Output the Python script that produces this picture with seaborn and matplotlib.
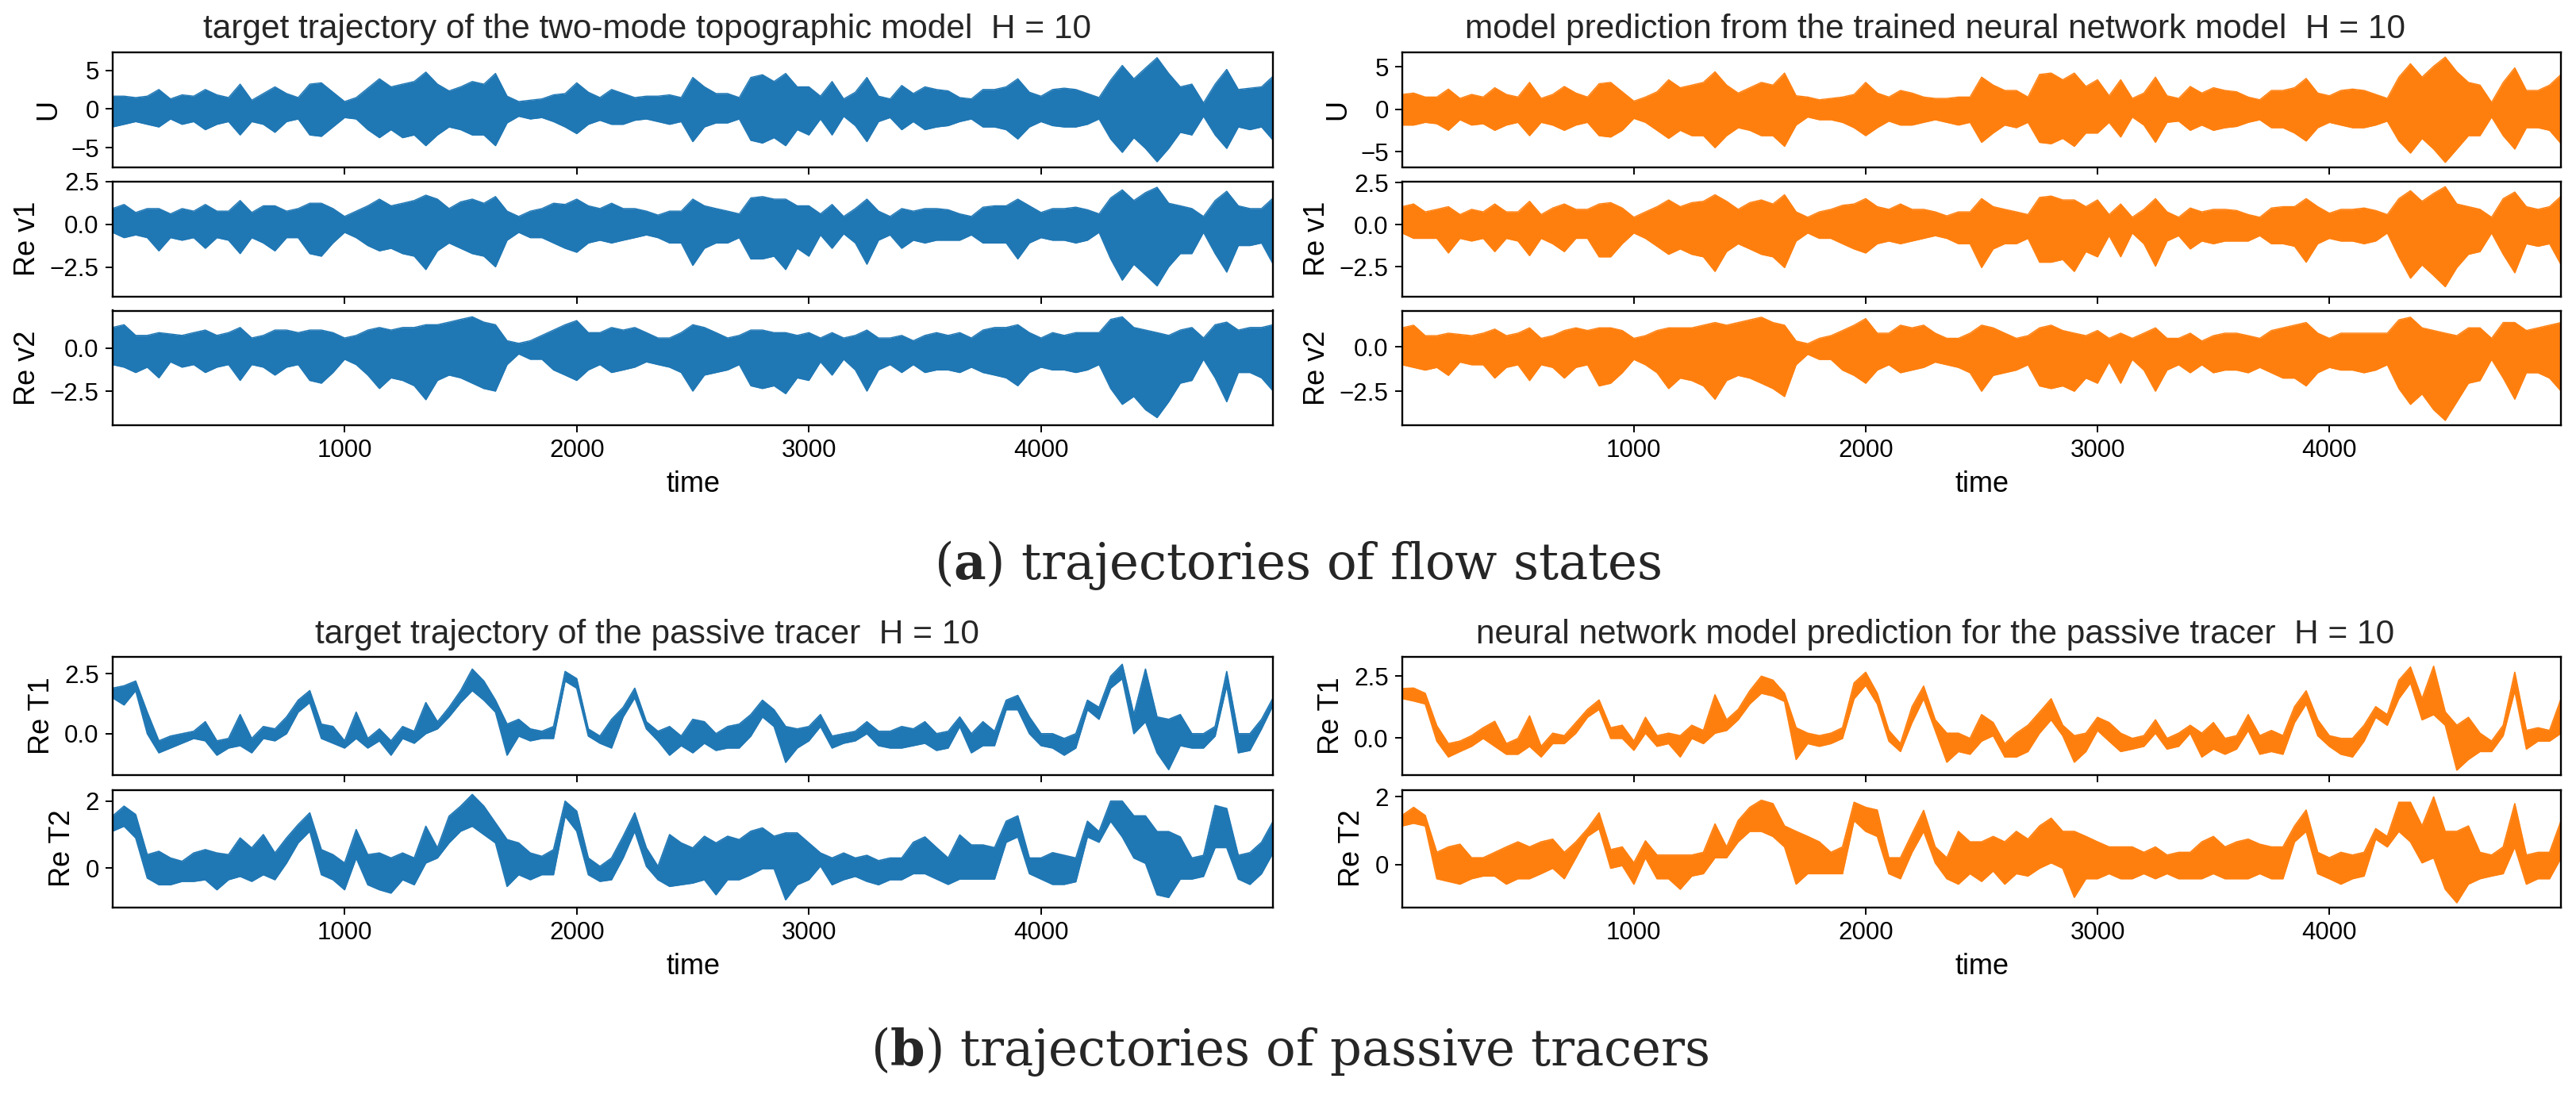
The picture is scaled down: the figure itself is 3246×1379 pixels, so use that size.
import numpy as np
import matplotlib
matplotlib.use("Agg")
import matplotlib.pyplot as plt
import seaborn as sns

# ---------------- data ----------------
time_points = list(range(0, 5001, 50))

# flow states, target (left) : upper / lower envelope of the fast oscillation
U_tgt_up = [1.66, 1.66, 1.48, 1.66, 2.52, 1.31, 1.83, 1.66, 2.52, 1.83,
            1.48, 3.21, 1.14, 2.0, 2.86, 2.0, 1.48, 3.21, 3.38, 2.17,
            0.97, 1.48, 2.69, 3.9, 2.86, 3.21, 3.55, 4.76, 3.21, 2.34,
            2.86, 3.55, 3.21, 4.59, 1.66, 0.97, 1.14, 1.31, 1.83, 2.0,
            3.38, 2.17, 1.48, 2.52, 2.0, 1.48, 1.66, 1.66, 1.83, 1.48,
            4.07, 2.86, 2.0, 2.0, 1.48, 4.07, 4.42, 3.55, 4.59, 2.86,
            2.86, 1.66, 3.55, 1.31, 2.17, 4.07, 1.66, 1.31, 3.04, 2.0,
            2.86, 2.52, 2.34, 1.48, 1.31, 2.52, 2.52, 2.86, 3.9, 2.17,
            1.66, 2.52, 2.69, 2.52, 2.0, 1.48, 3.73, 5.62, 3.9, 5.28,
            6.62, 4.59, 2.86, 3.21, 0.79, 3.21, 5.11, 2.52, 2.69, 2.86,
            4.24]
U_tgt_lo = [-2.31, -1.97, -1.62, -1.97, -2.31, -1.28, -1.97, -1.62, -2.66, -1.97,
            -1.62, -3.34, -1.62, -1.97, -3.0, -1.62, -1.28, -3.34, -3.52, -2.31,
            -1.1, -1.28, -2.66, -3.69, -2.66, -3.69, -3.34, -4.72, -3.34, -2.31,
            -2.66, -3.34, -3.34, -4.72, -1.79, -0.93, -1.28, -1.1, -1.62, -2.31,
            -3.17, -1.97, -1.45, -1.97, -1.97, -1.45, -1.28, -1.62, -1.97, -1.62,
            -4.2, -2.31, -1.79, -1.79, -1.28, -4.03, -4.38, -3.69, -4.72, -2.66,
            -3.34, -1.28, -3.34, -0.93, -2.14, -4.2, -1.62, -1.1, -2.66, -1.62,
            -2.66, -2.31, -2.14, -1.62, -1.28, -2.31, -2.31, -2.66, -3.86, -2.31,
            -1.62, -2.14, -2.31, -2.31, -1.97, -1.28, -3.86, -5.58, -3.69, -5.07,
            -6.79, -5.07, -3.0, -3.34, -0.93, -3.34, -5.07, -2.31, -2.66, -2.31,
            -4.03]
V1_tgt_up = [0.91, 1.15, 0.68, 0.91, 0.91, 0.6, 0.91, 0.76, 1.15, 0.76,
             0.76, 1.38, 0.68, 1.07, 1.07, 0.76, 0.91, 1.22, 1.22, 0.91,
             0.45, 0.76, 1.07, 1.46, 1.07, 1.22, 1.38, 1.69, 1.46, 0.91,
             1.3, 1.46, 1.22, 1.61, 0.76, 0.45, 0.76, 0.91, 1.22, 1.15,
             1.46, 1.07, 0.91, 1.22, 0.91, 0.91, 0.76, 0.53, 0.76, 0.76,
             1.46, 1.07, 0.91, 0.76, 0.6, 1.53, 1.61, 1.46, 1.46, 1.07,
             1.07, 0.6, 1.15, 0.45, 0.91, 1.46, 0.76, 0.45, 0.91, 0.76,
             0.91, 0.91, 0.84, 0.6, 0.45, 0.99, 1.07, 1.07, 1.46, 1.07,
             0.68, 0.91, 0.91, 0.99, 0.84, 0.6, 1.53, 2.0, 1.38, 1.84,
             2.15, 1.22, 1.07, 0.91, 0.45, 1.38, 1.92, 1.07, 0.91, 0.91,
             1.53]
V1_tgt_lo = [-0.48, -0.79, -0.63, -0.79, -1.56, -0.79, -0.94, -0.79, -1.41, -0.79,
             -0.94, -1.72, -0.79, -1.1, -1.56, -0.79, -0.79, -1.72, -1.87, -1.1,
             -0.48, -0.79, -1.25, -1.56, -1.41, -1.72, -1.87, -2.65, -1.56, -1.1,
             -1.41, -1.72, -1.87, -2.49, -0.94, -0.48, -0.79, -0.79, -1.1, -1.41,
             -1.64, -1.1, -0.94, -1.1, -0.94, -0.79, -0.63, -0.79, -1.1, -1.1,
             -2.41, -1.41, -1.1, -1.1, -0.79, -2.03, -2.03, -1.87, -2.65, -1.41,
             -1.87, -0.63, -1.41, -0.56, -1.1, -2.34, -0.94, -0.63, -1.41, -0.94,
             -1.1, -0.94, -0.94, -0.94, -0.63, -1.1, -1.1, -1.1, -2.03, -1.1,
             -0.79, -0.94, -0.94, -1.1, -0.94, -0.48, -2.03, -3.27, -2.34, -2.96,
             -3.6, -2.49, -1.72, -1.72, -0.48, -1.72, -2.8, -1.25, -1.25, -1.1,
             -2.34]
V2_tgt_up = [1.2, 1.36, 0.74, 0.74, 0.9, 0.82, 0.74, 0.9, 1.05, 0.74,
             0.9, 1.2, 0.59, 0.74, 1.05, 1.05, 0.9, 1.05, 1.05, 0.9,
             0.59, 0.74, 1.05, 1.2, 1.05, 1.2, 1.2, 1.36, 1.36, 1.51,
             1.67, 1.82, 1.51, 1.36, 0.43, 0.28, 0.43, 0.74, 1.05, 1.36,
             1.6, 0.9, 0.9, 1.2, 1.05, 1.2, 0.9, 0.59, 0.59, 0.9,
             1.36, 1.2, 0.9, 0.59, 0.74, 1.05, 1.05, 0.9, 0.9, 0.74,
             0.9, 0.59, 0.9, 0.59, 0.74, 1.05, 0.59, 0.59, 0.74, 0.43,
             0.74, 0.9, 0.74, 0.9, 0.59, 1.05, 1.2, 1.2, 1.36, 0.9,
             0.59, 0.9, 0.74, 0.9, 0.9, 0.9, 1.67, 1.82, 1.2, 1.05,
             0.9, 0.74, 1.05, 1.2, 0.59, 1.36, 1.51, 1.05, 1.2, 1.2,
             1.36]
V2_tgt_lo = [-0.96, -1.11, -1.42, -1.11, -1.73, -0.8, -1.11, -0.96, -1.42, -1.11,
             -0.96, -1.88, -0.96, -1.11, -1.57, -1.11, -0.96, -1.88, -2.04, -1.42,
             -0.65, -0.96, -1.57, -2.35, -1.73, -1.88, -2.19, -3.0, -1.88, -1.57,
             -1.73, -2.04, -2.35, -2.5, -0.96, -0.34, -0.65, -0.65, -1.27, -1.57,
             -1.88, -1.27, -0.96, -1.42, -1.27, -1.11, -0.8, -0.96, -1.11, -1.42,
             -2.5, -1.57, -1.42, -1.27, -0.96, -2.19, -2.35, -2.19, -2.65, -1.73,
             -1.88, -0.8, -1.57, -0.65, -1.27, -2.5, -1.27, -0.96, -1.42, -0.96,
             -1.42, -1.27, -1.27, -1.42, -1.11, -1.42, -1.57, -1.73, -2.19, -1.42,
             -1.11, -1.27, -1.27, -1.42, -1.27, -0.96, -2.35, -3.27, -2.81, -3.58,
             -4.04, -3.12, -2.04, -1.88, -0.65, -1.73, -3.12, -1.42, -1.42, -1.73,
             -2.5]

# flow states, neural network prediction (right)
U_nn_up = [1.76, 1.92, 1.45, 1.45, 2.39, 1.29, 1.76, 1.45, 2.55, 1.76,
           1.45, 3.18, 1.29, 1.76, 2.7, 1.92, 1.45, 3.02, 3.18, 2.07,
           0.97, 1.45, 2.07, 3.49, 2.55, 2.86, 3.18, 4.43, 2.86, 1.92,
           2.55, 3.18, 2.86, 4.28, 1.6, 1.45, 1.13, 1.29, 1.45, 1.76,
           3.18, 1.92, 1.45, 2.23, 1.92, 1.45, 1.29, 1.29, 1.45, 1.45,
           3.8, 2.86, 2.23, 2.23, 1.45, 4.12, 4.28, 3.49, 4.28, 2.7,
           3.49, 1.6, 3.49, 1.29, 1.92, 3.8, 1.6, 1.29, 2.7, 1.92,
           2.55, 2.23, 2.07, 1.45, 1.13, 2.23, 2.23, 2.55, 3.65, 1.92,
           1.6, 2.23, 2.39, 2.23, 1.76, 1.29, 3.8, 5.38, 3.8, 5.09,
           6.16, 4.43, 3.18, 2.86, 0.82, 3.18, 4.9, 2.23, 2.23, 2.86,
           4.12]
U_nn_lo = [-1.86, -1.86, -1.54, -1.7, -2.48, -1.23, -1.86, -1.7, -2.48, -1.86,
           -1.54, -3.11, -1.54, -1.86, -2.48, -1.86, -1.54, -3.11, -3.27, -2.48,
           -1.07, -1.54, -2.48, -3.43, -2.48, -3.11, -3.11, -4.53, -3.11, -2.17,
           -2.48, -3.11, -3.11, -4.37, -1.86, -0.91, -1.23, -1.23, -1.54, -2.17,
           -3.11, -2.17, -1.39, -1.86, -1.86, -1.54, -1.23, -1.54, -1.86, -1.54,
           -3.9, -2.8, -1.86, -2.17, -1.54, -3.9, -4.06, -3.43, -4.37, -2.8,
           -2.8, -1.54, -3.27, -0.91, -1.86, -3.9, -1.54, -1.39, -2.48, -1.86,
           -2.48, -2.17, -2.02, -1.54, -1.23, -2.17, -2.17, -2.8, -3.74, -2.17,
           -1.54, -1.86, -2.17, -2.17, -1.86, -1.39, -3.74, -5.16, -3.43, -4.69,
           -6.26, -4.69, -3.11, -3.11, -0.91, -3.11, -4.69, -2.17, -2.17, -2.48,
           -4.06]
V1_nn_up = [1.07, 1.23, 0.76, 0.91, 1.07, 0.6, 0.91, 0.76, 1.23, 0.76,
            0.76, 1.39, 0.6, 0.99, 1.23, 0.91, 0.91, 1.23, 1.31, 0.99,
            0.44, 0.76, 1.07, 1.47, 1.07, 1.31, 1.39, 1.78, 1.39, 0.91,
            1.31, 1.47, 1.23, 1.78, 0.76, 0.44, 0.76, 0.91, 1.15, 1.23,
            1.55, 1.07, 0.91, 1.23, 0.91, 0.91, 0.76, 0.52, 0.76, 0.76,
            1.55, 1.07, 0.91, 0.76, 0.6, 1.62, 1.7, 1.47, 1.47, 1.07,
            1.47, 0.6, 1.23, 0.44, 0.91, 1.55, 0.76, 0.44, 0.99, 0.76,
            0.91, 0.91, 0.84, 0.6, 0.44, 0.99, 1.07, 1.07, 1.55, 1.07,
            0.68, 0.91, 0.91, 0.99, 0.84, 0.6, 1.55, 2.02, 1.39, 1.86,
            2.26, 1.23, 1.07, 0.91, 0.44, 1.55, 1.94, 1.07, 0.91, 1.07,
            1.7]
V1_nn_lo = [-0.5, -0.82, -0.82, -0.82, -1.69, -0.82, -0.98, -0.82, -1.61, -0.82,
            -0.98, -1.85, -0.82, -1.14, -1.61, -0.82, -0.82, -1.92, -1.92, -1.14,
            -0.5, -0.82, -1.29, -1.77, -1.45, -1.77, -1.92, -2.79, -1.61, -1.14,
            -1.45, -1.77, -1.92, -2.56, -0.98, -0.5, -0.82, -0.82, -1.14, -1.45,
            -1.69, -1.14, -0.98, -1.14, -0.98, -0.82, -0.66, -0.82, -1.14, -1.14,
            -2.56, -1.45, -1.14, -1.14, -0.82, -2.24, -2.24, -2.08, -2.79, -1.61,
            -1.92, -0.66, -1.92, -0.5, -1.14, -2.48, -0.98, -0.66, -1.45, -0.98,
            -1.14, -0.98, -0.98, -0.98, -0.66, -1.14, -1.14, -1.29, -2.24, -1.14,
            -0.82, -0.98, -0.98, -1.14, -0.98, -0.5, -1.92, -3.19, -2.4, -3.03,
            -3.7, -2.56, -1.77, -1.61, -0.5, -1.77, -2.87, -1.14, -1.29, -1.14,
            -2.4]
V2_nn_up = [1.07, 1.22, 0.63, 0.63, 0.77, 0.7, 0.63, 0.77, 1.0, 0.63,
            0.77, 1.07, 0.48, 0.63, 0.92, 1.07, 0.92, 1.07, 1.07, 0.92,
            0.48, 0.63, 0.92, 1.07, 1.07, 1.07, 1.22, 1.37, 1.22, 1.37,
            1.52, 1.67, 1.37, 1.22, 0.33, 0.18, 0.48, 0.63, 0.92, 1.22,
            1.59, 0.77, 0.77, 1.22, 1.07, 1.22, 0.77, 0.48, 0.48, 0.77,
            1.22, 1.07, 0.77, 0.48, 0.63, 1.07, 1.22, 0.92, 0.77, 0.63,
            0.92, 0.48, 0.77, 0.48, 0.77, 1.07, 0.48, 0.48, 0.77, 0.33,
            0.63, 0.77, 0.77, 0.63, 0.48, 0.92, 1.07, 1.22, 1.37, 0.77,
            0.48, 0.77, 0.77, 0.77, 0.77, 0.77, 1.52, 1.67, 1.07, 0.92,
            0.77, 0.63, 1.07, 1.07, 0.48, 1.37, 1.37, 0.92, 1.07, 1.22,
            1.37]
V2_nn_lo = [-1.01, -1.16, -1.31, -1.16, -1.61, -0.86, -1.01, -1.01, -1.76, -1.16,
            -1.01, -1.9, -1.01, -1.16, -1.76, -1.16, -1.01, -2.2, -2.05, -1.46,
            -0.71, -1.01, -1.46, -2.35, -1.76, -1.9, -2.2, -2.95, -1.9, -1.61,
            -1.76, -2.05, -2.35, -2.8, -1.01, -0.42, -0.71, -0.71, -1.31, -1.61,
            -2.05, -1.31, -1.01, -1.46, -1.31, -1.16, -0.86, -1.01, -1.16, -1.46,
            -2.5, -1.61, -1.46, -1.31, -1.01, -2.2, -2.35, -2.2, -2.5, -1.76,
            -2.05, -0.86, -2.05, -0.71, -1.31, -2.5, -1.31, -1.01, -1.46, -1.01,
            -1.46, -1.31, -1.31, -1.46, -1.16, -1.46, -1.76, -1.76, -2.2, -1.46,
            -1.16, -1.31, -1.31, -1.46, -1.31, -1.01, -2.35, -3.24, -2.65, -3.54,
            -4.14, -3.1, -2.05, -1.9, -0.71, -1.76, -2.95, -1.46, -1.46, -1.76,
            -2.5]

# passive tracers, target (left)
T1_tgt_up = [1.9, 2.0, 2.2, 0.9, -0.3, -0.1, 0.0, 0.1, 0.5, -0.3,
             -0.2, 0.8, -0.2, 0.3, 0.2, 0.7, 1.4, 1.8, 0.4, 0.3,
             -0.3, 0.9, -0.2, 0.2, -0.3, 0.3, 0.1, 1.3, 0.5, 1.1,
             1.8, 2.7, 2.2, 1.4, 0.4, 0.6, 0.2, 0.1, 0.3, 2.6,
             2.3, 0.2, -0.1, 0.6, 1.1, 1.9, 0.5, 0.1, 0.3, -0.1,
             0.6, 0.5, 0.0, 0.3, 0.4, 0.8, 1.4, 1.0, 0.3, 0.2,
             0.3, 0.8, -0.1, 0.0, 0.1, 0.5, 0.1, 0.1, 0.3, 0.2,
             0.5, 0.0, 0.1, 0.7, 0.0, 0.5, 0.1, 1.4, 1.6, 0.7,
             0.0, 0.0, -0.2, 0.0, 1.4, 1.1, 2.4, 2.9, 0.8, 2.7,
             0.7, 0.6, 0.8, 0.0, 0.0, 0.3, 2.6, 0.0, 0.0, 0.6,
             1.5]
T1_tgt_lo = [1.5, 1.2, 1.8, 0.0, -0.8, -0.6, -0.4, -0.2, -0.3, -0.9,
             -0.6, -0.5, -0.8, -0.2, -0.3, 0.0, 0.9, 1.3, -0.2, -0.4,
             -0.6, -0.2, -0.6, -0.3, -0.9, -0.2, -0.4, 0.0, 0.2, 0.7,
             1.3, 1.8, 1.4, 0.9, -0.9, -0.1, -0.3, -0.2, -0.2, 2.2,
             1.9, -0.1, -0.4, -0.6, 0.7, 1.5, 0.2, -0.3, -0.9, -0.5,
             -0.8, -0.4, -0.7, -0.6, -0.6, -0.1, 0.7, 0.3, -1.2, -0.6,
             -0.3, 0.3, -0.6, -0.4, -0.3, 0.0, -0.5, -0.6, -0.6, -0.5,
             -0.4, -0.7, -0.6, 0.3, -0.8, -0.5, -0.5, 1.0, 1.0, 0.0,
             -0.5, -0.6, -0.9, -0.6, 1.0, 0.6, 1.9, 2.3, 0.0, 0.5,
             -0.8, -1.5, -0.5, -0.6, -0.6, -0.1, 2.0, -0.8, -0.7, 0.2,
             1.2]
T2_tgt_up = [1.55, 1.85, 1.6, 0.4, 0.5, 0.3, 0.2, 0.45, 0.55, 0.45,
             0.4, 0.9, 0.6, 1.0, 0.45, 0.9, 1.3, 1.65, 0.55, 0.4,
             0.15, 1.15, 0.4, 0.45, 0.3, 0.45, 0.3, 1.25, 0.6, 1.55,
             1.85, 2.2, 1.85, 1.35, 0.85, 0.75, 0.45, 0.35, 0.55, 2.0,
             1.7, 0.3, 0.05, 0.3, 0.95, 1.65, 0.6, 0.05, 1.0, 0.75,
             0.6, 0.95, 0.75, 0.95, 0.85, 1.1, 1.2, 0.95, 1.05, 1.05,
             0.75, 0.45, 0.3, 0.45, 0.3, 0.38, 0.22, 0.3, 0.3, 0.77,
             0.93, 0.61, 0.3, 0.99, 0.69, 0.69, 0.61, 1.4, 1.56, 0.3,
             0.3, 0.46, 0.38, 0.3, 1.4, 1.09, 2.0, 2.0, 1.56, 1.56,
             1.09, 1.09, 0.93, 0.3, 0.38, 1.87, 1.78, 0.38, 0.46, 0.77,
             1.4]
T2_tgt_lo = [1.1, 1.25, 0.9, -0.3, -0.5, -0.5, -0.4, -0.4, -0.35, -0.65,
             -0.35, -0.25, -0.4, -0.2, -0.35, 0.15, 0.75, 1.1, -0.2, -0.35,
             -0.65, 0.3, -0.5, -0.65, -0.75, -0.35, -0.5, 0.15, 0.3, 0.75,
             1.1, 1.25, 1.0, 0.75, -0.55, -0.2, -0.35, -0.2, -0.2, 1.55,
             1.1, -0.2, -0.4, -0.35, 0.3, 1.1, 0.05, -0.35, -0.55, -0.5,
             -0.45, -0.35, -0.8, -0.35, -0.35, -0.2, -0.02, -0.02, -0.95, -0.5,
             -0.35, 0.06, -0.5, -0.35, -0.25, -0.4, -0.5, -0.35, -0.35, -0.17,
             -0.17, -0.33, -0.49, -0.33, -0.33, -0.33, -0.33, 0.77, 0.93, -0.17,
             -0.33, -0.49, -0.49, -0.41, 0.93, 0.77, 1.4, 0.93, 0.3, 0.14,
             -0.8, -0.88, -0.33, -0.33, -0.25, 0.61, 0.61, -0.33, -0.49, -0.17,
             0.46]

# passive tracers, neural network prediction (right)
T1_nn_up = [2.0, 2.02, 1.81, 0.5, -0.22, -0.12, 0.1, 0.42, 0.68, -0.22,
            -0.01, 0.9, -0.33, 0.2, 0.1, 0.63, 1.16, 1.54, 0.42, 0.52,
            -0.12, 0.84, 0.1, 0.2, 0.1, 0.52, 0.31, 1.75, 0.74, 1.16,
            1.91, 2.5, 2.34, 1.81, 0.42, 0.2, 0.1, 0.2, 0.42, 2.23,
            2.66, 1.81, 0.31, -0.22, 1.27, 2.1, 0.74, 0.2, 0.2, -0.01,
            0.95, 0.63, -0.22, 0.2, 0.52, 1.05, 1.59, 0.52, 0.1, 0.2,
            0.84, 0.63, 0.2, -0.01, 0.1, 0.74, -0.01, 0.2, 0.52, 0.2,
            0.63, -0.01, 0.1, 0.95, 0.1, 0.31, 0.1, 1.27, 1.91, 0.74,
            0.1, -0.01, -0.01, 0.52, 1.27, 0.95, 2.34, 2.87, 1.59, 2.9,
            1.06, 0.52, 0.84, 0.2, -0.12, 0.52, 2.66, 0.31, 0.42, 0.31,
            1.6]
T1_nn_lo = [1.6, 1.5, 1.38, -0.12, -0.76, -0.54, -0.33, -0.01, -0.33, -0.65,
            -0.65, -0.33, -0.76, -0.22, -0.22, 0.2, 0.84, 1.16, -0.01, -0.01,
            -0.49, 0.2, -0.33, -0.22, -0.76, -0.01, -0.22, 0.2, 0.31, 0.74,
            1.38, 1.81, 1.7, 1.48, -0.86, -0.22, -0.33, -0.22, -0.01, 1.59,
            2.13, 1.38, -0.12, -0.54, 0.63, 1.59, 0.31, -0.97, -0.54, -0.65,
            -0.12, 0.1, -0.76, -0.76, -0.54, 0.2, 0.74, 0.1, -0.97, -0.54,
            0.31, -0.12, -0.54, -0.44, -0.33, 0.2, -0.44, -0.33, 0.2, -0.76,
            -0.44, -0.65, -0.44, 0.31, -0.65, -0.54, -0.65, 0.63, 1.38, 0.1,
            -0.33, -0.65, -0.76, -0.12, 0.84, 0.52, 1.59, 2.23, 0.74, 0.95,
            0.52, -1.29, -0.86, -0.54, -0.54, 0.1, 1.91, -0.44, -0.12, -0.12,
            0.2]
T2_nn_up = [1.45, 1.69, 1.45, 0.36, 0.52, 0.6, 0.2, 0.2, 0.36, 0.52,
            0.67, 0.52, 0.67, 0.75, 0.36, 0.67, 1.06, 1.53, 0.44, 0.52,
            0.05, 0.7, 0.28, 0.28, 0.28, 0.28, 0.36, 1.2, 0.52, 1.3,
            1.69, 1.9, 1.8, 1.14, 0.98, 0.83, 0.67, 0.36, 0.52, 1.84,
            1.69, 1.61, 0.2, 0.2, 0.91, 1.6, 0.52, 0.2, 0.98, 0.67,
            0.67, 0.83, 0.67, 0.98, 0.75, 1.14, 1.37, 0.98, 0.98, 0.83,
            0.67, 0.52, 0.52, 0.52, 0.36, 0.52, 0.28, 0.36, 0.36, 0.67,
            0.83, 0.52, 0.67, 0.75, 0.6, 0.52, 0.52, 1.14, 1.61, 0.36,
            0.2, 0.36, 0.28, 0.36, 1.06, 0.83, 1.84, 1.84, 1.14, 2.0,
            0.98, 0.98, 1.14, 0.36, 0.28, 0.52, 1.8, 0.28, 0.36, 0.36,
            1.3]
T2_nn_lo = [1.14, 1.22, 1.14, -0.42, -0.5, -0.58, -0.42, -0.34, -0.34, -0.58,
            -0.42, -0.42, -0.27, -0.11, -0.42, 0.2, 0.83, 1.06, -0.11, -0.03,
            -0.58, 0.2, -0.42, -0.42, -0.73, -0.34, -0.27, 0.2, 0.2, 0.67,
            0.98, 0.98, 0.83, 0.52, -0.58, -0.27, -0.27, -0.27, -0.27, 1.3,
            0.98, 0.83, -0.27, -0.42, 0.36, 0.98, 0.05, -0.42, -0.58, -0.27,
            -0.5, -0.19, -0.58, -0.27, -0.34, -0.11, 0.05, -0.11, -0.97, -0.42,
            -0.42, -0.27, -0.42, -0.42, -0.27, -0.42, -0.27, -0.42, -0.42, -0.42,
            -0.27, -0.42, -0.42, -0.42, -0.27, -0.42, -0.42, 0.67, 0.98, -0.27,
            -0.42, -0.58, -0.42, -0.34, 0.75, 0.52, 0.98, 0.67, 0.05, 0.2,
            -0.73, -1.13, -0.58, -0.42, -0.34, -0.27, 0.52, -0.58, -0.42, -0.42,
            0.2]

x_ticks = [1000, 2000, 3000, 4000]
titles = ["target trajectory of the two-mode topographic model  H = 10",
          "model prediction from the trained neural network model  H = 10",
          "target trajectory of the passive tracer  H = 10",
          "neural network model prediction for the passive tracer  H = 10"]
flow_labels = ["U", "Re v1", "Re v2"]
tracer_labels = ["Re T1", "Re T2"]
captions = [r"($\mathbf{a}$) trajectories of flow states",
            r"($\mathbf{b}$) trajectories of passive tracers"]

# ---------------- style ----------------
sns.set_theme(style="ticks")
plt.rcParams.update({
    "font.family": ["Liberation Sans", "DejaVu Sans"],
    "font.size": 22.5,
    "axes.linewidth": 1.7,
    "axes.edgecolor": "black",
    "xtick.major.size": 6.5, "ytick.major.size": 6.5,
    "xtick.major.width": 1.4, "ytick.major.width": 1.4,
    "xtick.major.pad": 6, "ytick.major.pad": 6,
    "xtick.color": "black", "ytick.color": "black",
    "xtick.labelsize": 22.5, "ytick.labelsize": 22.5,
    "axes.labelsize": 26, "axes.labelcolor": "black",
    "mathtext.fontset": "dejavuserif",
})

BLUE = "#1f77b4"
ORANGE = "#ff7f0e"
W, H = 3246, 1379
fig = plt.figure(figsize=(W / 100, H / 100), dpi=100)


def px_axes(x0, x1, y0, y1):
    return fig.add_axes([x0 / W, 1 - y1 / H, (x1 - x0) / W, (y1 - y0) / H])


def band(ax, up, lo, color, lw):
    ax.fill_between(time_points, lo, up, color=color, linewidth=0)
    sns.lineplot(x=time_points, y=up, ax=ax, color=color, linewidth=lw)
    sns.lineplot(x=time_points, y=lo, ax=ax, color=color, linewidth=lw)


cols = [(142, 1604), (1767, 3227)]
flow_rows = [(66, 210.5), (228.5, 374), (391.5, 536)]
tracer_rows = [(828, 977), (995.5, 1143.5)]

flow_data = [
    [(U_tgt_up, U_tgt_lo), (V1_tgt_up, V1_tgt_lo), (V2_tgt_up, V2_tgt_lo)],
    [(U_nn_up, U_nn_lo), (V1_nn_up, V1_nn_lo), (V2_nn_up, V2_nn_lo)],
]
flow_ylims = [
    [(-7.46, 7.3), (-4.23, 2.5), (-4.48, 2.18)],
    [(-6.8, 6.72), (-4.29, 2.58), (-4.41, 2.04)],
]
flow_yticks = [[-5, 0, 5], [-2.5, 0.0, 2.5], [-2.5, 0.0]]
flow_yticklabels = [["\u22125", "0", "5"], ["\u22122.5", "0.0", "2.5"], ["\u22122.5", "0.0"]]

tracer_data = [
    [(T1_tgt_up, T1_tgt_lo), (T2_tgt_up, T2_tgt_lo)],
    [(T1_nn_up, T1_nn_lo), (T2_nn_up, T2_nn_lo)],
]
tracer_ylims = [
    [(-1.73, 3.21), (-1.17, 2.34)],
    [(-1.49, 3.28), (-1.26, 2.21)],
]
tracer_yticks = [[0.0, 2.5], [0, 2]]
tracer_yticklabels = [["0.0", "2.5"], ["0", "2"]]

colors = [BLUE, ORANGE]

for c, (x0, x1) in enumerate(cols):
    for r, (y0, y1) in enumerate(flow_rows):
        ax = px_axes(x0, x1, y0, y1)
        up, lo = flow_data[c][r]
        band(ax, up, lo, colors[c], 1.0)
        ax.set_xlim(1, 4999)
        ax.set_ylim(*flow_ylims[c][r])
        ax.set_xticks(x_ticks)
        ax.set_yticks(flow_yticks[r])
        ax.set_yticklabels(flow_yticklabels[r])
        ax.set_ylabel(flow_labels[r], labelpad=8)
        if r < 2:
            ax.set_xticklabels([])
            ax.set_xlabel("")
        else:
            ax.set_xlabel("time", labelpad=7)
    for r, (y0, y1) in enumerate(tracer_rows):
        ax = px_axes(x0, x1, y0, y1)
        up, lo = tracer_data[c][r]
        band(ax, up, lo, colors[c], 1.2)
        ax.set_xlim(1, 4999)
        ax.set_ylim(*tracer_ylims[c][r])
        ax.set_xticks(x_ticks)
        ax.set_yticks(tracer_yticks[r])
        ax.set_yticklabels(tracer_yticklabels[r])
        ax.set_ylabel(tracer_labels[r], labelpad=8)
        if r < 1:
            ax.set_xticklabels([])
            ax.set_xlabel("")
        else:
            ax.set_xlabel("time", labelpad=7)

# titles (centred on each half of the figure)
fig.text(815 / W, 1 - 48 / H, titles[0], ha="center", va="baseline", fontsize=30.5)
fig.text(2439 / W, 1 - 48 / H, titles[1], ha="center", va="baseline", fontsize=30.5)
fig.text(815 / W, 1 - 811 / H, titles[2], ha="center", va="baseline", fontsize=30.5)
fig.text(2439 / W, 1 - 811 / H, titles[3], ha="center", va="baseline", fontsize=30.5)

# sub-figure captions
fig.text(1635 / W, 1 - 730 / H, captions[0], ha="center", va="baseline",
         fontsize=45, family="DejaVu Serif")
fig.text(1625 / W, 1 - 1343 / H, captions[1], ha="center", va="baseline",
         fontsize=45, family="DejaVu Serif")

fig.savefig("out.png", dpi=100, facecolor="white")
